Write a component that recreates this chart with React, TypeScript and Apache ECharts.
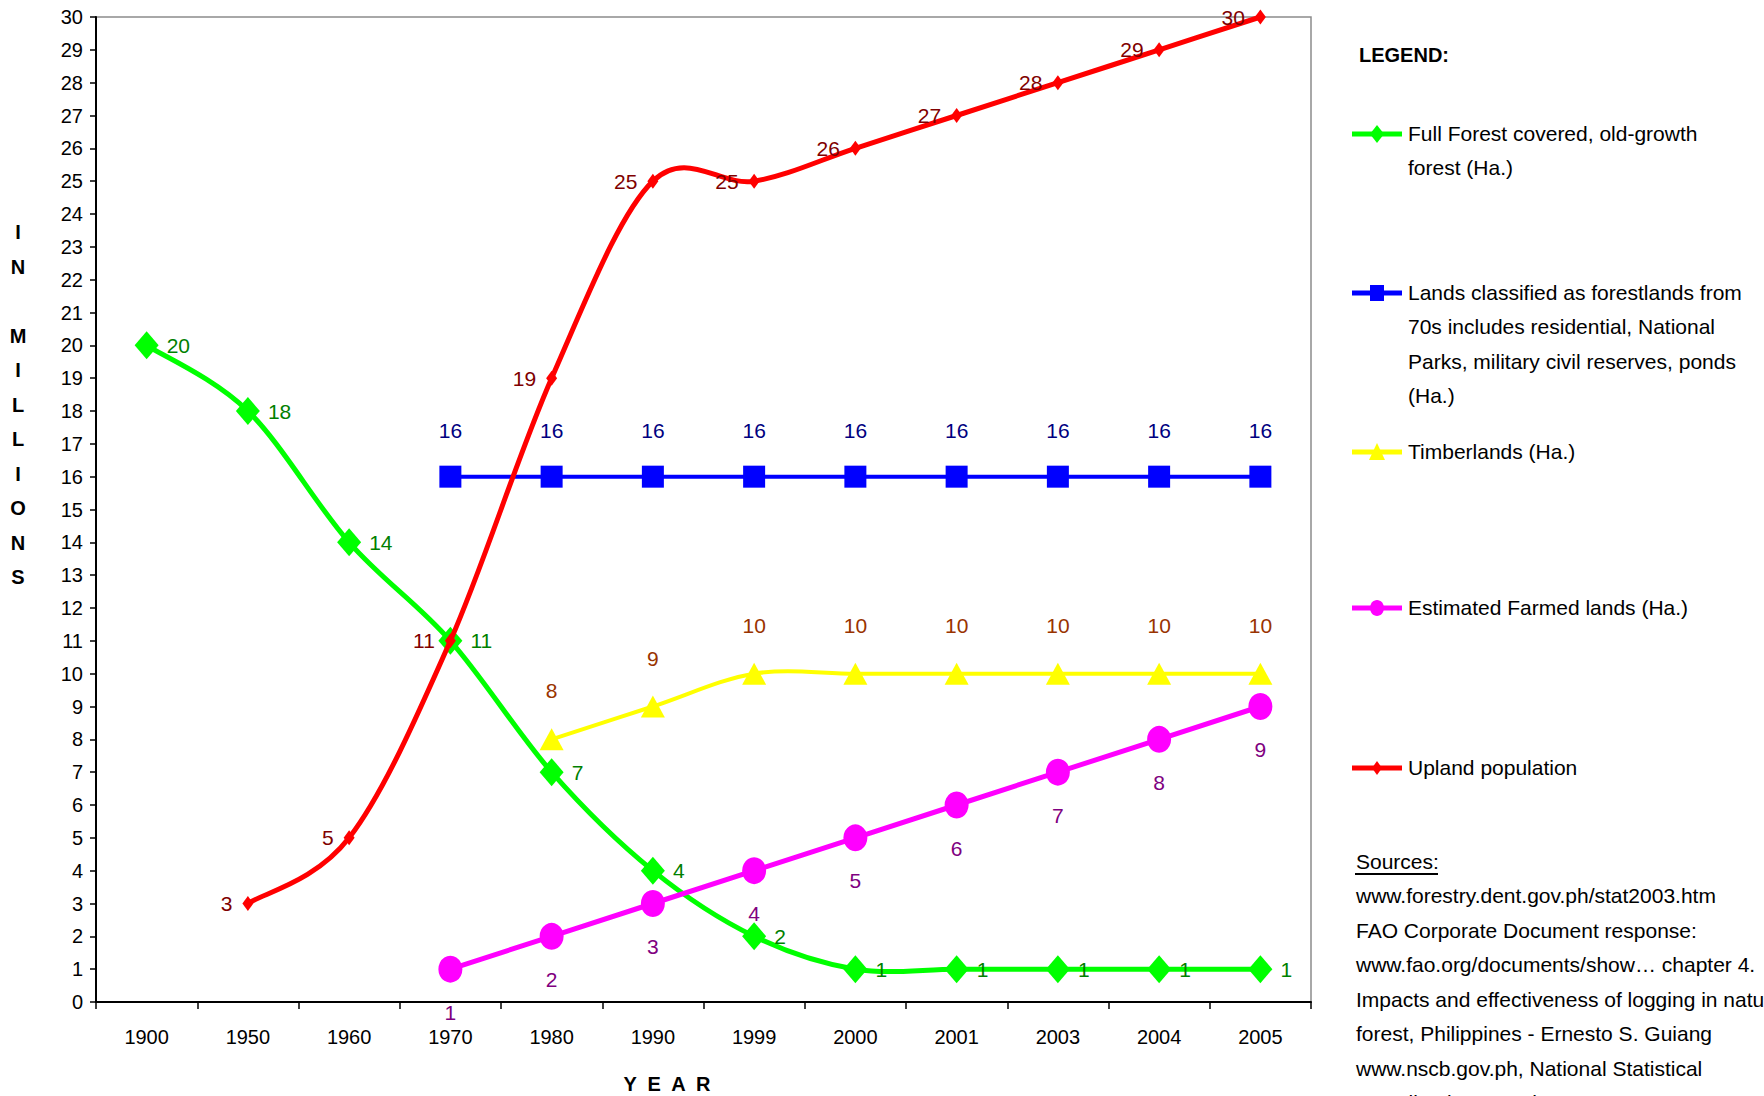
import React, { useEffect, useRef } from "react";
import * as echarts from "echarts";

const years = ["1900", "1950", "1960", "1970", "1980", "1990", "1999", "2000", "2001", "2003", "2004", "2005"];
const fullForest = [20, 18, 14, 11, 7, 4, 2, 1, 1, 1, 1, 1];
const forestlands = [null, null, null, 16, 16, 16, 16, 16, 16, 16, 16, 16];
const timberlands = [null, null, null, null, 8, 9, 10, 10, 10, 10, 10, 10];
const farmedLands = [null, null, null, 1, 2, 3, 4, 5, 6, 7, 8, 9];
const uplandPopulation = [null, 3, 5, 11, 19, 25, 25, 26, 27, 28, 29, 30];

const legendItems = [
  { name: "Full Forest covered, old-growth\nforest (Ha.)", color: "#00FF00", symbol: "diamond", y: 134 },
  {
    name: "Lands classified as forestlands from\n70s includes residential, National\nParks, military civil reserves, ponds\n(Ha.)",
    color: "#0000FF",
    symbol: "square",
    y: 293,
  },
  { name: "Timberlands (Ha.)", color: "#FFFF00", symbol: "triangle", y: 452 },
  { name: "Estimated Farmed lands (Ha.)", color: "#FF00FF", symbol: "circle", y: 608 },
  { name: "Upland population", color: "#FF0000", symbol: "smalldiamond", y: 768 },
];

const sourcesLines = [
  "www.forestry.dent.gov.ph/stat2003.htm",
  "FAO Corporate Document response:",
  "www.fao.org/documents/show\u2026 chapter 4.",
  "Impacts and effectiveness of logging in natural",
  "forest, Philippines - Ernesto S. Guiang",
  "www.nscb.gov.ph, National Statistical",
  "Coordination Board, 2005",
];

const FONT = "'Liberation Sans', Arial, sans-serif";
const LH = 34.5;

function legendSymbol(kind: string, cx: number, cy: number, color: string): any {
  if (kind === "diamond") {
    return { type: "polygon", shape: { points: [[cx, cy - 9], [cx + 7, cy], [cx, cy + 9], [cx - 7, cy]] }, style: { fill: color } };
  }
  if (kind === "smalldiamond") {
    return { type: "polygon", shape: { points: [[cx, cy - 7], [cx + 5, cy], [cx, cy + 7], [cx - 5, cy]] }, style: { fill: color } };
  }
  if (kind === "square") {
    return { type: "rect", shape: { x: cx - 7, y: cy - 8, width: 14, height: 16 }, style: { fill: color } };
  }
  if (kind === "triangle") {
    return { type: "polygon", shape: { points: [[cx, cy - 9], [cx + 8, cy + 8], [cx - 8, cy + 8]] }, style: { fill: color } };
  }
  return { type: "ellipse", shape: { cx, cy, rx: 7, ry: 8 }, style: { fill: color } };
}

// Excel-like smoothed line (Catmull-Rom style Bezier), drawn through the axes via api.coord
function smoothLine(name: string, values: (number | null)[], color: string, width: number, z: number): any {
  return {
    type: "custom",
    name: name + " line",
    silent: true,
    z,
    data: values.map((v, i) => [i, v == null ? 0 : v]),
    encode: { x: 0, y: 1 },
    renderItem: (params: any, api: any) => {
      const i = params.dataIndex;
      if (values[i] == null || i + 1 >= values.length || values[i + 1] == null) return null;
      const P = (k: number) => api.coord([k, values[k]]);
      const p1 = P(i);
      const p2 = P(i + 1);
      const p0 = i - 1 >= 0 && values[i - 1] != null ? P(i - 1) : p1;
      const p3 = i + 2 < values.length && values[i + 2] != null ? P(i + 2) : p2;
      return {
        type: "bezierCurve",
        shape: {
          x1: p1[0],
          y1: p1[1],
          x2: p2[0],
          y2: p2[1],
          cpx1: p1[0] + (p2[0] - p0[0]) / 6,
          cpy1: p1[1] + (p2[1] - p0[1]) / 6,
          cpx2: p2[0] - (p3[0] - p1[0]) / 6,
          cpy2: p2[1] - (p3[1] - p1[1]) / 6,
        },
        style: { stroke: color, lineWidth: width, fill: null, lineCap: "round" },
      };
    },
  };
}

export default function App() {
  const ref = useRef<HTMLDivElement>(null);

  useEffect(() => {
    if (!ref.current) return;
    const chart = echarts.init(ref.current, null, { renderer: "svg" });

    const graphics: any[] = [];
    graphics.push({
      type: "text",
      x: 18,
      y: 232 - LH / 2,
      style: {
        text: "I\nN\n\nM\nI\nL\nL\nI\nO\nN\nS",
        font: `bold 20px ${FONT}`,
        fill: "#000",
        align: "center",
        verticalAlign: "top",
        lineHeight: LH,
      },
    });
    graphics.push({
      type: "text",
      x: 667,
      y: 1084,
      style: {
        text: "Y  E  A  R",
        font: `bold 20px ${FONT}`,
        fill: "#000",
        align: "center",
        verticalAlign: "middle",
      },
    });
    graphics.push({
      type: "text",
      x: 1359,
      y: 55,
      style: { text: "LEGEND:", font: `bold 20px ${FONT}`, fill: "#000", align: "left", verticalAlign: "middle" },
    });
    legendItems.forEach((it) => {
      graphics.push({
        type: "line",
        shape: { x1: 1352, y1: it.y, x2: 1402, y2: it.y },
        style: { stroke: it.color, lineWidth: 5 },
      });
      graphics.push(legendSymbol(it.symbol, 1377, it.y, it.color));
      graphics.push({
        type: "text",
        x: 1408,
        y: it.y - 1 - LH / 2,
        style: {
          text: it.name,
          font: `21px ${FONT}`,
          fill: "#000",
          align: "left",
          verticalAlign: "top",
          lineHeight: LH,
        },
      });
    });
    graphics.push({
      type: "text",
      x: 1356,
      y: 861 - LH / 2,
      style: {
        text: "Sources:\n" + sourcesLines.join("\n"),
        font: `21px ${FONT}`,
        fill: "#000",
        align: "left",
        verticalAlign: "top",
        lineHeight: LH,
      },
    });
    graphics.push({
      type: "line",
      shape: { x1: 1355, y1: 874, x2: 1438, y2: 874 },
      style: { stroke: "#000", lineWidth: 2 },
    });

    const labelFont = { fontSize: 21, fontFamily: FONT };

    chart.setOption({
      animation: false,
      backgroundColor: "#fff",
      textStyle: { fontFamily: FONT },
      grid: {
        left: 96,
        right: 453,
        top: 17,
        bottom: 94,
        show: true,
        borderColor: "#8c8c8c",
        borderWidth: 1.5,
        outerBoundsMode: "none",
      },
      xAxis: {
        type: "category",
        data: years,
        boundaryGap: true,
        axisLine: { lineStyle: { color: "#000", width: 2 } },
        axisTick: { show: true, length: 7, interval: 0, lineStyle: { color: "#000", width: 1.5 } },
        axisLabel: { color: "#000", fontSize: 20, margin: 25, interval: 0 },
        splitLine: { show: false },
      },
      yAxis: {
        type: "value",
        min: 0,
        max: 30,
        interval: 1,
        axisLine: { show: true, lineStyle: { color: "#000", width: 2 } },
        axisTick: { show: true, length: 6, lineStyle: { color: "#000", width: 1.5 } },
        axisLabel: { color: "#000", fontSize: 20, margin: 13 },
        splitLine: { show: false },
      },
      graphic: graphics,
      series: [
        smoothLine("Full Forest", fullForest, "#00FF00", 5, 2),
        {
          name: "Full Forest covered, old-growth forest (Ha.)",
          type: "line",
          data: fullForest,
          symbol: "diamond",
          symbolSize: [24, 28],
          lineStyle: { opacity: 0, width: 0 },
          itemStyle: { color: "#00FF00" },
          label: { show: true, position: "right", distance: 8, color: "#008000", ...labelFont },
          z: 2,
        },
        {
          name: "Lands classified as forestlands",
          type: "line",
          data: forestlands,
          symbol: "rect",
          symbolSize: 22,
          lineStyle: { color: "#0000FF", width: 4 },
          itemStyle: { color: "#0000FF" },
          label: { show: true, position: "top", distance: 25, color: "#000080", ...labelFont },
          z: 3,
        },
        smoothLine("Timberlands", timberlands, "#FFFF00", 4, 3),
        {
          name: "Timberlands (Ha.)",
          type: "line",
          data: timberlands,
          symbol: "triangle",
          symbolSize: [24, 22],
          lineStyle: { opacity: 0, width: 0 },
          itemStyle: { color: "#FFFF00" },
          label: { show: true, position: "top", distance: 27, color: "#993300", ...labelFont },
          z: 3,
        },
        {
          name: "Estimated Farmed lands (Ha.)",
          type: "line",
          data: farmedLands,
          symbol: "circle",
          symbolSize: [24, 27],
          lineStyle: { color: "#FF00FF", width: 5 },
          itemStyle: { color: "#FF00FF" },
          label: { show: true, position: "bottom", distance: 19, color: "#800080", ...labelFont },
          z: 3,
        },
        smoothLine("Upland population", uplandPopulation, "#FF0000", 5, 4),
        {
          name: "Upland population",
          type: "line",
          data: uplandPopulation,
          symbol: "diamond",
          symbolSize: [11, 15],
          lineStyle: { opacity: 0, width: 0 },
          itemStyle: { color: "#FF0000" },
          label: { show: true, position: "left", distance: 10, color: "#800000", ...labelFont },
          z: 4,
        },
      ],
    });

    return () => chart.dispose();
  }, []);

  return <div ref={ref} style={{ position: "fixed", left: 0, top: 0, width: 1764, height: 1096 }} />;
}
